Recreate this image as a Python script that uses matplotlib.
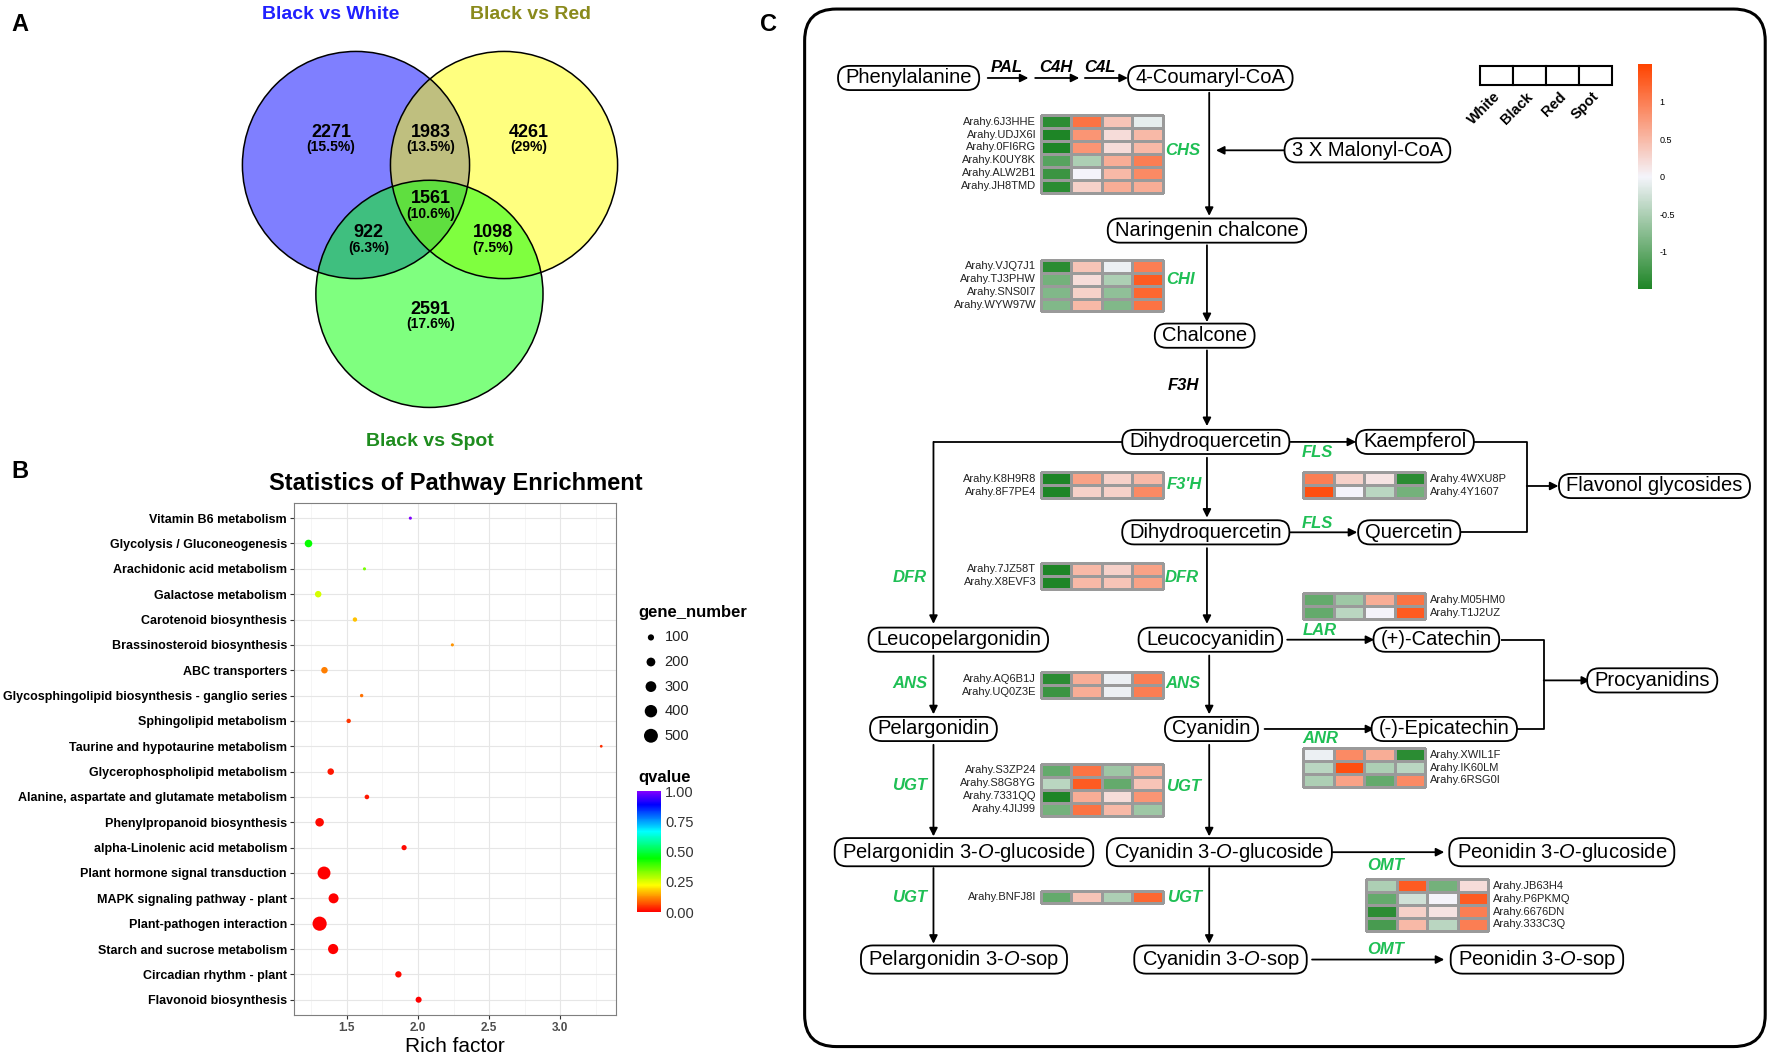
import numpy as np
import matplotlib
import matplotlib.pyplot as plt
import matplotlib.colors as mcolors
from matplotlib.patches import Circle, FancyBboxPatch, Rectangle
from matplotlib.colors import LinearSegmentedColormap, Normalize
from matplotlib.cm import ScalarMappable

plt.rcParams['font.family'] = ['Liberation Sans', 'DejaVu Sans']
plt.rcParams['mathtext.fontset'] = 'custom'
plt.rcParams['mathtext.rm'] = 'Liberation Sans'
plt.rcParams['mathtext.it'] = 'Liberation Sans:italic'

# ---------------- data ----------------
# A: Venn (region code = White/Red/Spot membership)
venn_titles = ['Black vs White', 'Black vs Red', 'Black vs Spot']
venn_regions = ['100', '110', '010', '111', '101', '011', '001']
venn_counts = [2271, 1983, 4261, 1561, 922, 1098, 2591]

# B: KEGG enrichment
pathways = ['Vitamin B6 metabolism', 'Glycolysis / Gluconeogenesis', 'Arachidonic acid metabolism',
            'Galactose metabolism', 'Carotenoid biosynthesis', 'Brassinosteroid biosynthesis',
            'ABC transporters', 'Glycosphingolipid biosynthesis - ganglio series',
            'Sphingolipid metabolism', 'Taurine and hypotaurine metabolism',
            'Glycerophospholipid metabolism', 'Alanine, aspartate and glutamate metabolism',
            'Phenylpropanoid biosynthesis', 'alpha-Linolenic acid metabolism',
            'Plant hormone signal transduction', 'MAPK signaling pathway - plant',
            'Plant-pathogen interaction', 'Starch and sucrose metabolism',
            'Circadian rhythm - plant', 'Flavonoid biosynthesis']
rich_factor = [1.947, 1.232, 1.625, 1.300, 1.558, 2.242, 1.344, 1.605, 1.514, 3.287,
               1.388, 1.642, 1.310, 1.903, 1.341, 1.408, 1.310, 1.405, 1.863, 2.005]
gene_number = [25, 150, 25, 110, 50, 25, 110, 30, 50, 20,
               110, 55, 190, 70, 430, 260, 520, 270, 105, 95]
qvalue = [1.0, 0.44, 0.34, 0.26, 0.17, 0.13, 0.11, 0.10, 0.05, 0.04,
          0.02, 0.02, 0.01, 0.01, 0.0, 0.0, 0.0, 0.0, 0.01, 0.0]
legend_genes = [100, 200, 300, 400, 500]

# C: heatmaps (columns: White, Black, Red, Spot)
samples = ['White', 'Black', 'Red', 'Spot']
chs_genes = ['Arahy.6J3HHE', 'Arahy.UDJX6I', 'Arahy.0FI6RG', 'Arahy.K0UY8K', 'Arahy.ALW2B1', 'Arahy.JH8TMD']
chs_vals = [[-1.4, 1.1, 0.4, -0.1], [-1.5, 0.8, 0.2, 0.5], [-1.5, 0.8, 0.2, 0.5],
            [-1.1, -0.5, 0.6, 1.0], [-1.3, 0.0, 0.5, 0.9], [-1.4, 0.3, 0.6, 0.6]]
chi_genes = ['Arahy.VJQ7J1', 'Arahy.TJ3PHW', 'Arahy.SNS0I7', 'Arahy.WYW97W']
chi_vals = [[-1.4, 0.4, -0.05, 1.0], [-0.9, 0.2, -0.5, 1.3], [-0.8, 0.3, -0.7, 1.2], [-0.8, 0.5, -0.8, 1.1]]
f3h_genes = ['Arahy.K8H9R8', 'Arahy.8F7PE4']
f3h_vals = [[-1.5, 0.7, 0.3, 0.5], [-1.5, 0.3, 0.3, 0.9]]
dfr_genes = ['Arahy.7JZ58T', 'Arahy.X8EVF3']
dfr_vals = [[-1.5, 0.5, 0.3, 0.7], [-1.5, 0.5, 0.4, 0.7]]
fls_genes = ['Arahy.4WXU8P', 'Arahy.4Y1607']
fls_vals = [[1.0, 0.3, 0.15, -1.4], [1.4, 0.0, -0.4, -0.9]]
lar_genes = ['Arahy.M05HM0', 'Arahy.T1J2UZ']
lar_vals = [[-1.0, -0.6, 0.6, 1.1], [-1.0, -0.4, 0.0, 1.3]]
ans_genes = ['Arahy.AQ6B1J', 'Arahy.UQ0Z3E']
ans_vals = [[-1.4, 0.6, -0.05, 1.0], [-1.3, 0.6, -0.05, 1.0]]
anr_genes = ['Arahy.XWIL1F', 'Arahy.IK60LM', 'Arahy.6RSG0I']
anr_vals = [[-0.05, 0.9, 0.6, -1.4], [-0.4, 1.4, -0.5, -0.4], [-0.5, 0.7, -1.0, 0.9]]
ugt1_genes = ['Arahy.S3ZP24', 'Arahy.S8G8YG', 'Arahy.7331QQ', 'Arahy.4JIJ99']
ugt1_vals = [[-1.0, 1.1, -0.6, 0.6], [-0.4, 1.3, -1.0, 0.4], [-1.5, 0.6, 0.2, 0.8], [-0.9, 1.1, 0.5, -0.6]]
ugt2_genes = ['Arahy.BNFJ8I']
ugt2_vals = [[-1.0, 0.4, -0.5, 1.2]]
omt_genes = ['Arahy.JB63H4', 'Arahy.P6PKMQ', 'Arahy.6676DN', 'Arahy.333C3Q']
omt_vals = [[-0.5, 1.3, -0.9, 0.2], [-1.0, -0.25, 0.0, 1.3], [-1.4, 0.3, 0.15, 1.0], [-1.2, 0.5, -0.4, 1.0]]

# ---------------- figure ----------------
W, H = 1568, 937   # canvas units
fig = plt.figure(figsize=(17.72, 10.59), dpi=100)
cv = fig.add_axes([0, 0, 1, 1])
cv.set_xlim(0, W)
cv.set_ylim(H, 0)
cv.axis('off')

def fx(x):
    return x / W

def fy(y):
    return 1 - y / H

for lab, x, y in [('A', 18, 22), ('B', 18, 417), ('C', 680, 22)]:
    cv.text(x, y, lab, fontsize=17, fontweight='bold', ha='center', va='center')

# ---- A: Venn ----
centers = [(315, 146), (446, 146), (380, 260)]
fills = ['blue', 'yellow', 'lime']
for c, f in zip(centers, fills):
    cv.add_patch(Circle(c, 100.5, fc=f, ec='none', alpha=0.5))
for c in centers:
    cv.add_patch(Circle(c, 100.5, fc='none', ec='black', lw=1.1))

title_pos = [(293, 13), (469, 13), (380, 391)]
title_col = ['#2020ff', '#8a8a1c', '#1e8c1e']
for t, p, col in zip(venn_titles, title_pos, title_col):
    cv.text(p[0], p[1], t, color=col, fontsize=14, fontweight='bold', ha='center', va='center')

total = sum(venn_counts)
region_pos = {'100': (293, 117), '110': (381, 117), '010': (468, 117), '111': (381, 176),
              '101': (326, 206), '011': (436, 206), '001': (381, 274)}
for r, n in zip(venn_regions, venn_counts):
    x, y = region_pos[r]
    pct = f"{100 * n / total:.1f}".rstrip('0').rstrip('.')
    cv.text(x, y, str(n), fontsize=13, fontweight='bold', ha='center', va='center')
    cv.text(x, y + 13, f"({pct}%)", fontsize=10, fontweight='bold', ha='center', va='center')

# ---- B: enrichment scatter ----
qcmap = LinearSegmentedColormap.from_list(
    'q', [mcolors.hsv_to_rgb((0.75 * q, 1, 1)) for q in np.linspace(0, 1, 64)])

def dot_size(v):
    return 0.2 * np.asarray(v, dtype=float)

axb = fig.add_axes([fx(260), fy(898), fx(545) - fx(260), fy(445) - fy(898)])
ypos = np.arange(len(pathways))[::-1]
axb.scatter(rich_factor, ypos, s=dot_size(gene_number), c=qvalue, cmap=qcmap, vmin=0, vmax=1,
            zorder=3, linewidths=0)
axb.set_ylim(-0.6, len(pathways) - 0.4)
axb.set_xlim(1.129, 3.39)
axb.set_yticks(ypos)
axb.set_yticklabels(pathways, fontsize=9, fontweight='bold')
axb.set_xticks([1.5, 2.0, 2.5, 3.0])
axb.set_xticklabels(['1.5', '2.0', '2.5', '3.0'], fontsize=8.5, fontweight='bold', color='#4d4d4d')
axb.set_xticks([1.25, 1.75, 2.25, 2.75, 3.25], minor=True)
axb.tick_params(which='minor', length=0)
axb.tick_params(which='major', length=3, color='#333333', pad=2)
axb.grid(True, which='major', color='#e6e6e6', lw=0.8)
axb.grid(True, which='minor', axis='x', color='#f2f2f2', lw=0.5)
axb.set_axisbelow(True)
for s in axb.spines.values():
    s.set_color('#7f7f7f')
axb.set_xlabel('Rich factor', fontsize=15, labelpad=2)
cv.text(403, 428, 'Statistics of Pathway Enrichment', fontsize=17, fontweight='bold',
        ha='center', va='center')

# size legend
cv.text(565, 542, 'gene_number', fontsize=12, fontweight='bold', ha='left', va='center')
leg_y = np.linspace(564, 651, len(legend_genes))
cv.scatter([576] * len(legend_genes), leg_y, s=dot_size(legend_genes), c='black', linewidths=0)
for v, y in zip(legend_genes, leg_y):
    cv.text(588, y, str(v), fontsize=10.5, ha='left', va='center', color='#222222')

cv.text(565, 688, 'qvalue', fontsize=12, fontweight='bold', ha='left', va='center')
caxq = fig.add_axes([fx(564), fy(807), fx(585) - fx(564), fy(700) - fy(807)])
cbq = fig.colorbar(ScalarMappable(Normalize(0, 1), qcmap), cax=caxq)
cbq.set_ticks([0, 0.25, 0.5, 0.75, 1.0])
cbq.set_ticklabels(['0.00', '0.25', '0.50', '0.75', '1.00'])
cbq.outline.set_visible(False)
caxq.tick_params(length=0, labelsize=10.5, labelcolor='#333333', pad=3)

# ---- C: pathway ----
cv.add_patch(FancyBboxPatch((712, 8), 850, 918, boxstyle='round,pad=0,rounding_size=28',
                            fc='none', ec='black', lw=2.2))

ENZ_GREEN = '#1fbf55'
node_texts = []

def node(x, y, label):
    t = cv.text(x, y, label, ha='center', va='center', fontsize=14.5, zorder=6)
    node_texts.append(t)

def arrow(x0, y0, x1, y1):
    cv.annotate('', xy=(x1, y1), xytext=(x0, y0), zorder=3,
                arrowprops=dict(arrowstyle='-|>', color='black', lw=1.3, mutation_scale=12,
                                shrinkA=0, shrinkB=0))

def line(xs, ys):
    cv.plot(xs, ys, color='black', lw=1.3, zorder=3, solid_capstyle='butt')

def enz(x, y, label, color=ENZ_GREEN):
    cv.text(x, y, label, ha='center', va='center', fontsize=12, fontweight='bold',
            fontstyle='italic', color=color, zorder=6)

heat_cmap = LinearSegmentedColormap.from_list('gw', ['#1e8526', '#f4f4fb', '#ff4400'])
heat_norm = Normalize(-1.5, 1.5)
CW, CH = 27, 11.4

def heat(vals, genes, x0, y0, side='left'):
    vals = np.asarray(vals)
    nr, nc = vals.shape
    xs = x0 + CW * np.arange(nc + 1)
    ys = y0 + CH * np.arange(nr + 1)
    cv.pcolormesh(xs, ys, vals, cmap=heat_cmap, norm=heat_norm, edgecolors='#9a9a9a',
                  linewidth=0.8, zorder=4)
    for i, g in enumerate(genes):
        yy = y0 + CH * (i + 0.5)
        if side == 'left':
            cv.text(x0 - 4, yy, g, ha='right', va='center', fontsize=8, color='#222222')
        else:
            cv.text(xs[-1] + 4, yy, g, ha='left', va='center', fontsize=8, color='#222222')

# top row
node(804, 69, 'Phenylalanine')
for (a, b), lab, lx in zip([(874, 910), (916, 955), (960, 998)], ['PAL', 'C4H', 'C4L'], [891, 934, 973]):
    arrow(a, 69, b, 69)
    enz(lx, 60, lab, color='black')
node(1071, 69, '4-Coumaryl-CoA')
arrow(1070, 82, 1070, 191)
node(1210, 133, '3 X Malonyl-CoA')
arrow(1138, 133, 1076, 133)
enz(1047, 133, 'CHS')
heat(chs_vals, chs_genes, 921, 102)
node(1068, 204, 'Naringenin chalcone')
arrow(1068, 217, 1068, 285)
enz(1045, 247, 'CHI')
heat(chi_vals, chi_genes, 921, 230)
node(1066, 297, 'Chalcone')
arrow(1068, 310, 1068, 377)
enz(1047, 341, 'F3H', color='black')
node(1067, 391, 'Dihydroquercetin')
arrow(1068, 405, 1068, 458)
enz(1048, 429, "F3'H")
heat(f3h_vals, f3h_genes, 921, 418)
node(1067, 471, 'Dihydroquercetin')
arrow(1068, 485, 1068, 552)
enz(1046, 511, 'DFR')
heat(dfr_vals, dfr_genes, 921, 498)
node(1071, 566, 'Leucocyanidin')
arrow(1070, 580, 1070, 632)
enz(1047, 605, 'ANS')
heat(ans_vals, ans_genes, 921, 595)
node(1072, 645, 'Cyanidin')
arrow(1070, 659, 1070, 740)
enz(1047, 696, 'UGT')
heat(ugt1_vals, ugt1_genes, 921, 676)
node(1079, 754, 'Cyanidin 3-$\\it{O}$-glucoside')
arrow(1070, 768, 1070, 835)
enz(1048, 794, 'UGT')
heat(ugt2_vals, ugt2_genes, 921, 788)
node(1080, 849, 'Cyanidin 3-$\\it{O}$-sop')

# left column
line([995, 826], [391, 391])
arrow(826, 391, 826, 552)
enz(805, 511, 'DFR')
node(848, 566, 'Leucopelargonidin')
arrow(826, 580, 826, 632)
enz(805, 605, 'ANS')
node(826, 645, 'Pelargonidin')
arrow(826, 659, 826, 740)
enz(805, 695, 'UGT')
node(853, 754, 'Pelargonidin 3-$\\it{O}$-glucoside')
arrow(826, 768, 826, 835)
enz(805, 794, 'UGT')
node(853, 849, 'Pelargonidin 3-$\\it{O}$-sop')

# right side
arrow(1142, 391, 1200, 391)
enz(1166, 400, 'FLS')
node(1252, 391, 'Kaempferol')
arrow(1142, 471, 1201, 471)
enz(1166, 463, 'FLS')
node(1247, 471, 'Quercetin')
heat(fls_vals, fls_genes, 1153, 418, side='right')
line([1302, 1351, 1351, 1292], [391, 391, 471, 471])
arrow(1351, 430, 1379, 430)
node(1464, 430, 'Flavonol glycosides')

arrow(1139, 566, 1216, 566)
enz(1168, 558, 'LAR')
node(1271, 566, '(+)-Catechin')
heat(lar_vals, lar_genes, 1153, 525, side='right')
arrow(1119, 645, 1216, 645)
enz(1168, 653, 'ANR')
node(1278, 645, '(-)-Epicatechin')
heat(anr_vals, anr_genes, 1153, 662, side='right')
line([1328, 1366, 1366, 1341], [566, 566, 645, 645])
arrow(1366, 602, 1407, 602)
node(1462, 602, 'Procyanidins')

arrow(1178, 754, 1278, 754)
enz(1226, 766, 'OMT')
node(1382, 754, 'Peonidin 3-$\\it{O}$-glucoside')
heat(omt_vals, omt_genes, 1209, 778, side='right')
arrow(1161, 849, 1278, 849)
enz(1226, 840, 'OMT')
node(1360, 849, 'Peonidin 3-$\\it{O}$-sop')

# heatmap legend
for i, s in enumerate(samples):
    x0 = 1310 + 29 * i
    cv.add_patch(Rectangle((x0, 58), 29, 17, fc='white', ec='black', lw=1.5, zorder=4))
    cv.text(x0 + 20, 79, s, rotation=45, ha='right', va='top', fontsize=10.5, fontweight='bold')

caxh = fig.add_axes([fx(1449), fy(256), fx(1462) - fx(1449), fy(57) - fy(256)])
cbh = fig.colorbar(ScalarMappable(heat_norm, heat_cmap), cax=caxh)
cbh.set_ticks([1, 0.5, 0, -0.5, -1])
cbh.set_ticklabels(['1', '0.5', '0', '-0.5', '-1'])
cbh.outline.set_visible(False)
caxh.tick_params(length=0, labelsize=6.5, pad=5)

# rounded boxes around node labels, sized from the rendered text
fig.canvas.draw()
renderer = fig.canvas.get_renderer()
inv = cv.transData.inverted()
PADX, PADY = 6.5, 2.3
for t in node_texts:
    bb = t.get_window_extent(renderer)
    (x0, y0), (x1, y1) = inv.transform([[bb.x0, bb.y0], [bb.x1, bb.y1]])
    xa, xb = min(x0, x1), max(x0, x1)
    ya, yb = min(y0, y1), max(y0, y1)
    cv.add_patch(FancyBboxPatch((xa - PADX, ya - PADY), (xb - xa) + 2 * PADX, (yb - ya) + 2 * PADY,
                                boxstyle='round,pad=0,rounding_size=10.5', fc='white', ec='black',
                                lw=1.3, zorder=5))

fig.savefig('out.png', dpi=100)
